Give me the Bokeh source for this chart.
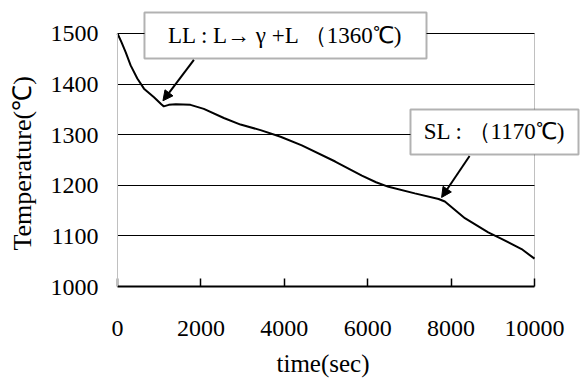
from bokeh.plotting import figure
from bokeh.models import (Range1d, FixedTicker, Label, LabelSet, Arrow, NormalHead,
                          BoxAnnotation, Title, ColumnDataSource)
from bokeh.embed import file_html
from bokeh.resources import INLINE

# data
time_sec = [0, 100, 200, 315, 475, 635, 875, 1050, 1110, 1230, 1400, 1750, 2070,
            2550, 2950, 3430, 3910, 4420, 5220, 5860, 6200, 6500, 7130, 7700,
            7850, 8330, 8890, 9210, 9690, 10000]
temp_c = [1500, 1482, 1462, 1437, 1411, 1391, 1374, 1360, 1356, 1359, 1360, 1359, 1351,
          1333, 1320, 1309, 1296, 1279, 1247, 1219, 1206, 1197, 1184, 1173,
          1168, 1135, 1107, 1094, 1074, 1055]
x_ticks = [0, 2000, 4000, 6000, 8000, 10000]
y_ticks = [1000, 1100, 1200, 1300, 1400, 1500]
grid_ticks = [1100, 1200, 1300, 1400, 1500]
x_tick_labels = ["0", "2000", "4000", "6000", "8000", "10000"]
y_tick_labels = ["1000", "1100", "1200", "1300", "1400", "1500"]

ll_text = "LL : L\u2192 \u03b3 +L \uff081360\u2103)"
sl_text = "SL : \uff081170\u2103)"

FONT = "Liberation Serif"
GRAY = "#c0c0c0"

x_min, x_max = x_ticks[0], x_ticks[-1]
y_min, y_max = y_ticks[0], y_ticks[-1]

# frame extends past the axes so tick labels and callouts are not clipped
p = figure(frame_width=539, frame_height=330,
           x_range=Range1d(-1822.5, 11103), y_range=Range1d(893.3, 1545.45),
           output_backend="svg", toolbar_location=None,
           min_border_left=40, min_border_right=0, min_border_top=10,
           min_border_bottom=45)
p.outline_line_color = None
p.background_fill_color = "white"
p.border_fill_color = "white"

# x axis (drawn at y_min inside the frame)
xa = p.xaxis[0]
xa.fixed_location = y_min
xa.bounds = (x_min, x_max)
xa.ticker = FixedTicker(ticks=x_ticks)
xa.axis_line_color = "black"
xa.axis_line_width = 2
xa.major_tick_in = 8
xa.major_tick_out = 0
xa.major_tick_line_color = "black"
xa.major_tick_line_width = 1.5
xa.minor_tick_line_color = None
xa.major_label_overrides = {t: "" for t in x_ticks}

# y axis (drawn at x_min inside the frame)
ya = p.yaxis[0]
ya.fixed_location = x_min
ya.bounds = (y_min, y_max)
ya.ticker = FixedTicker(ticks=y_ticks)
ya.axis_line_color = GRAY
ya.axis_line_width = 1
ya.major_tick_in = 0
ya.major_tick_out = 0
ya.major_tick_line_color = None
ya.minor_tick_line_color = None
ya.major_label_overrides = {t: "" for t in y_ticks}

# tick labels
xsrc = ColumnDataSource(dict(x=x_ticks, y=[y_min] * len(x_ticks), t=x_tick_labels))
ysrc = ColumnDataSource(dict(x=[x_min] * len(y_ticks), y=y_ticks, t=y_tick_labels))
p.add_layout(LabelSet(x="x", y="y", text="t", source=xsrc, y_offset=-49,
                      text_align="center", text_baseline="alphabetic",
                      text_font=FONT, text_font_size="24px", text_color="black"))
p.add_layout(LabelSet(x="x", y="y", text="t", source=ysrc, x_offset=-19, y_offset=-8,
                      text_align="right", text_baseline="alphabetic",
                      text_font=FONT, text_font_size="24px", text_color="black"))

# axis titles
p.add_layout(Title(text="time(sec)", align="left", offset=235, standoff=15,
                   text_font=FONT, text_font_size="25px",
                   text_font_style="normal", text_color="black"), "below")
p.add_layout(Title(text="Temperature(\u2103)", align="left", offset=90, standoff=10,
                   text_font=FONT, text_font_size="26px",
                   text_font_style="normal", text_color="black"), "left")

# grid lines limited to the axis area
p.xgrid.ticker = FixedTicker(ticks=[x_max])
p.xgrid.grid_line_color = GRAY
p.ygrid.ticker = FixedTicker(ticks=grid_ticks)
p.ygrid.grid_line_color = "black"
p.ygrid.grid_line_width = 1
try:
    p.ygrid.cross_bounds = (x_min, x_max)
    p.xgrid.cross_bounds = (y_min, y_max)
except Exception:
    p.ygrid.grid_line_color = None
    p.xgrid.grid_line_color = None
    p.segment(x0=[x_min] * len(grid_ticks), x1=[x_max] * len(grid_ticks),
              y0=grid_ticks, y1=grid_ticks, line_color="black", line_width=1)
    p.segment(x0=[x_max], x1=[x_max], y0=[y_min], y1=[y_max],
              line_color=GRAY, line_width=1)

p.line(time_sec, temp_c, line_color="black", line_width=2)

# callouts
p.add_layout(Arrow(end=NormalHead(size=10, fill_color="black", line_color="black"),
                   x_start=1832, y_start=1448, x_end=1090, y_end=1367,
                   line_color="black", line_width=2))
p.add_layout(Arrow(end=NormalHead(size=10, fill_color="black", line_color="black"),
                   x_start=8443, y_start=1258, x_end=7772, y_end=1176,
                   line_color="black", line_width=2))

p.add_layout(BoxAnnotation(left=647, right=7410, bottom=1450.6, top=1541.5,
                           fill_color="white", fill_alpha=1.0,
                           line_color="black", line_width=2))
p.add_layout(BoxAnnotation(left=7026, right=11055, bottom=1260.9, top=1349.8,
                           fill_color="white", fill_alpha=1.0,
                           line_color="black", line_width=2))
p.add_layout(Label(x=4028, y=1496, text=ll_text, text_align="center",
                   text_baseline="middle", text_font=FONT, text_font_size="23px",
                   text_font_style="normal", text_color="black"))
p.add_layout(Label(x=9040, y=1305.4, text=sl_text, text_align="center",
                   text_baseline="middle", text_font=FONT, text_font_size="23px",
                   text_font_style="normal", text_color="black"))

open("out.html", "w").write(file_html(p, INLINE))
